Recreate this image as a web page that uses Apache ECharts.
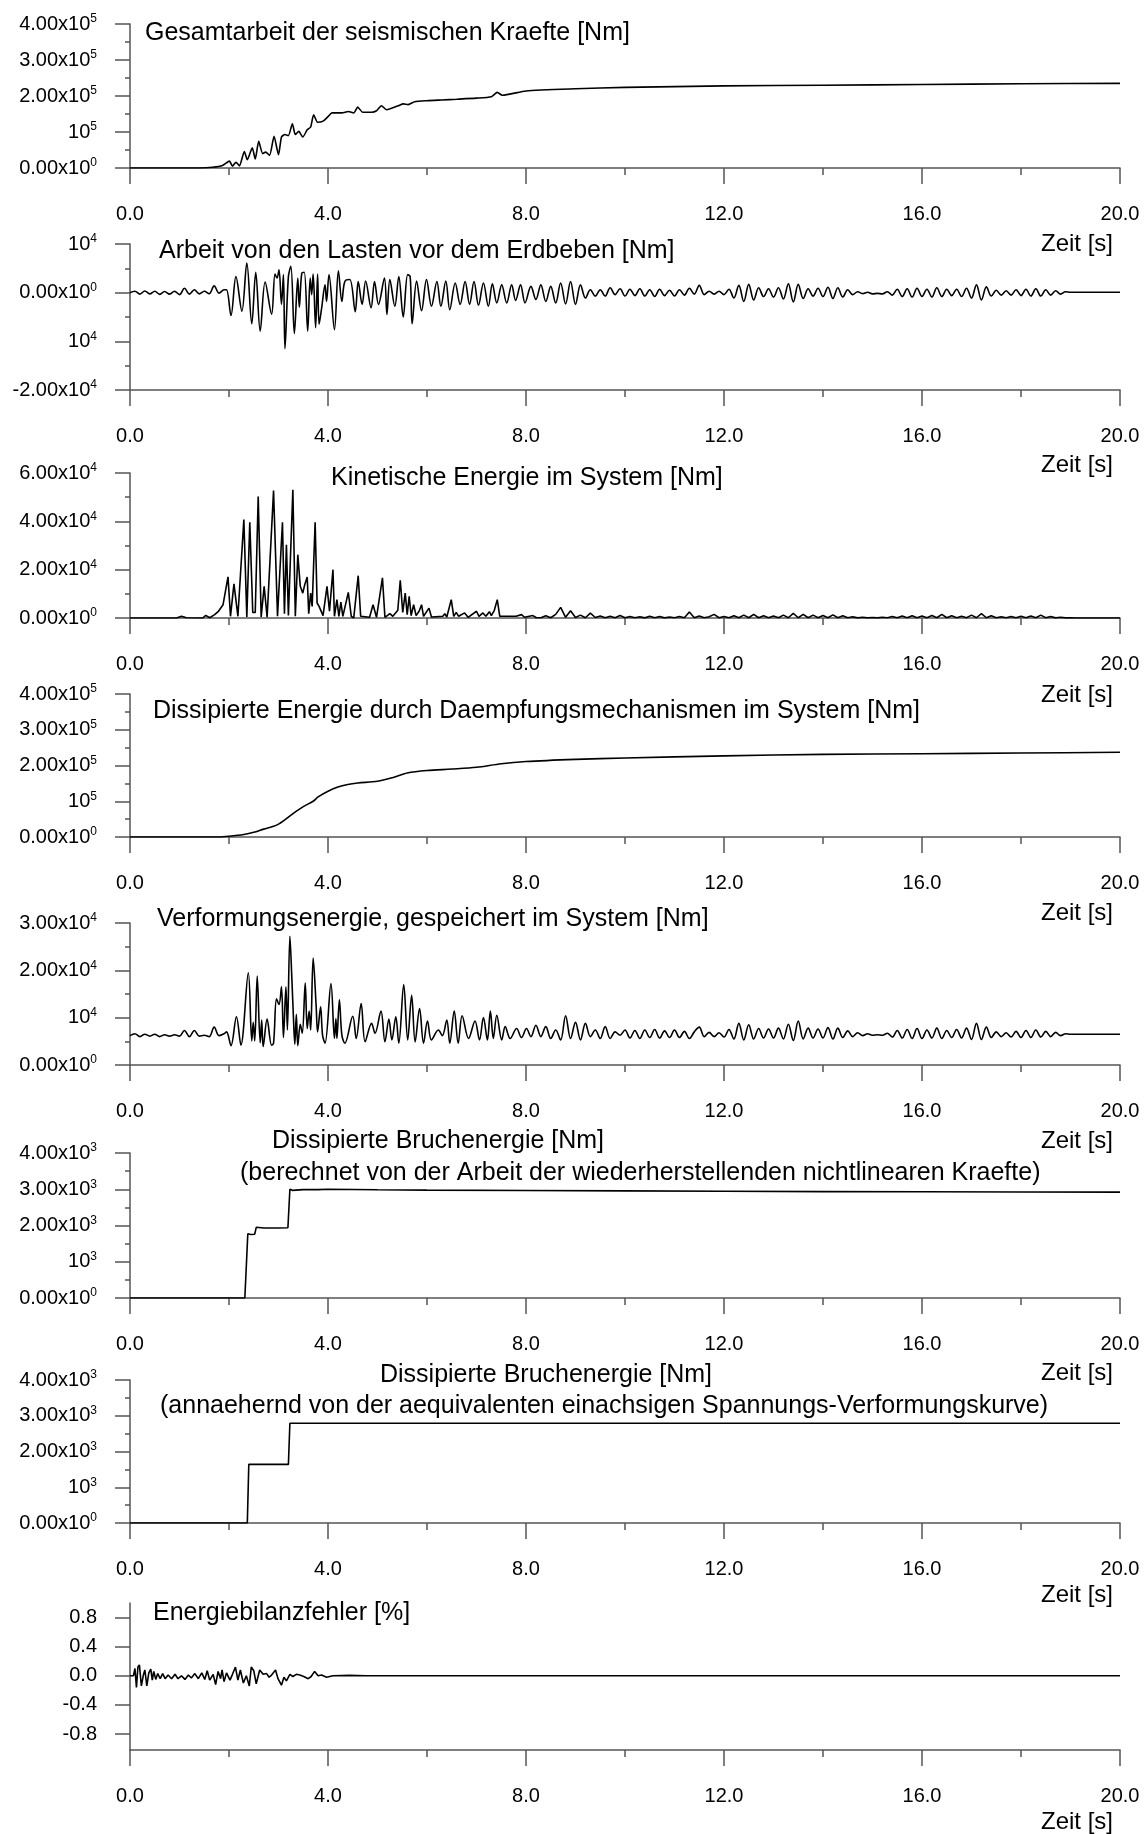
<!DOCTYPE html>
<html><head><meta charset="utf-8">
<script src="https://cdn.jsdelivr.net/npm/echarts@6/dist/echarts.min.js"></script>
<style>html,body{margin:0;padding:0;background:#fff}#c{width:1145px;height:1834px}</style>
</head><body><div id="c"></div>
<script>
// ---------------- DATA (time in s, values in Nm or %) ----------------
const timeStep = 0.1;
const xTicks = [0, 4, 8, 12, 16, 20];

// Panel 1: Gesamtarbeit der seismischen Kraefte
const p1Work = [[0,0],[1.40,0],[1.67,2000],[1.87,7000],[2.01,19000],[2.07,5000],[2.14,16000],[2.21,6000],[2.31,46000],[2.37,23000],[2.47,56000],[2.53,25000],[2.60,74000],[2.68,40000],[2.74,44000],[2.82,35000],[2.91,88000],[3.00,37000],[3.06,86000],[3.13,93000],[3.20,90000],[3.28,123000],[3.34,93000],[3.41,102000],[3.49,86000],[3.58,106000],[3.65,114000],[3.71,148000],[3.79,127000],[3.91,131000],[4.01,144000],[4.08,153000],[4.28,153000],[4.41,157000],[4.52,153000],[4.60,169000],[4.70,155000],[4.88,155000],[4.98,159000],[5.08,173000],[5.18,162000],[5.42,173000],[5.52,178000],[5.62,176000],[5.75,184000],[6.0,187000],[6.3,189000],[6.6,191000],[7.0,194000],[7.3,198000],[7.42,210000],[7.52,202000],[8.0,214000],[9.0,220000],[10.0,224000],[12.0,228000],[14.0,230000],[16.0,232000],[18.0,234000],[20.0,235000]];
const p1TickVals = [0, 1e5, 2e5, 3e5, 4e5];
const p1TickLabels = ['0.00x10^0', '10^5', '2.00x10^5', '3.00x10^5', '4.00x10^5'];

// Panel 2: Arbeit von den Lasten vor dem Erdbeben
const p2Early = [0,300,-300,350,-250,300,-350,250,-300,300,-400,900,-300,600,-250,300,-200,1400,-100,600];
const p2Mid = [[1.95,600],[2.04,-4700],[2.14,3300],[2.26,-3800],[2.36,6100],[2.46,-6400],[2.54,4200],[2.63,-7900],[2.73,2200],[2.86,-4400],[2.93,3800],[2.97,3000],[3.01,4700],[3.06,-2400],[3.10,3700],[3.13,-11500],[3.20,3300],[3.25,5400],[3.32,-8400],[3.39,3000],[3.42,-3000],[3.47,4000],[3.52,4200],[3.59,-7900],[3.64,3000],[3.67,-400],[3.70,3800],[3.75,-7200],[3.79,3800],[3.82,-6500],[3.87,-3300],[3.94,1600],[3.97,-1800],[4.02,3700],[4.13,-7600],[4.21,4500],[4.28,-1800],[4.34,2300],[4.44,2700],[4.55,-3900],[4.61,2300],[4.69,-2400],[4.76,2400],[4.87,-3100],[4.94,2300],[5.02,-2400],[5.14,3000],[5.19,-4500],[5.25,2700],[5.35,-2800],[5.43,3300],[5.52,-5000],[5.61,3700],[5.66,3300],[5.70,-6400],[5.79,2400],[5.89,-3700],[5.99,2700],[6.09,-2800],[6.20,2300],[6.28,-2800],[6.38,2400],[6.46,-3500],[6.57,2000],[6.67,-2400],[6.77,2300],[6.86,-2400],[6.95,2300],[7.04,-2600],[7.14,2000],[7.24,-2800],[7.32,1800],[7.41,-2100],[7.51,1600],[7.61,-2100],[7.71,1600],[7.79,-1600],[7.89,1600],[7.98,-2100]];
const p2LateStart = 8.1;
const p2Late = [1300,-1400,1600,-1800,1300,-2100,2000,-2300,2300,-2400,1600,-1100,600,-700,600,-700,1000,-400,800,
 -700,700,-600,800,-700,600,-800,700,-600,500,
 -700,600,-500,900,-300,1500,-400,300,-300,300,
 -400,700,-1100,1500,-1800,1700,-1500,1000,-800,800,
 -900,1000,-1300,1800,-1900,1700,-1200,800,-700,900,
 -800,1100,-1200,1000,-900,600,-400,200,-200,100,
 -250,-150,-250,200,-500,700,-800,800,-900,900,
 -800,700,-900,1000,-800,700,-600,700,-800,900,
 -1100,1600,-1500,1200,-700,500,-500,400,-500,600,
 -600,700,-700,800,-700,600,-500,400,-300,200,
 100,100,100,100,100,100,100,100,100,100,100];
const p2TickVals = [-2e4, -1e4, 0, 1e4];
const p2TickLabels = ['-2.00x10^4', '10^4', '0.00x10^0', '10^4'];

// Panel 3: Kinetische Energie im System
const p3Kinetic = [[0,0],[0.94,0],[1.04,700],[1.14,100],[1.47,0],[1.53,1100],[1.61,100],[1.71,1400],[1.78,2600],[1.88,5500],[1.98,17000],[2.03,700],[2.10,14100],[2.18,700],[2.30,40700],[2.36,400],[2.42,39600],[2.48,2300],[2.53,2300],[2.59,50300],[2.65,400],[2.71,13100],[2.77,300],[2.90,52700],[2.98,700],[3.08,39600],[3.12,1800],[3.16,30300],[3.20,1000],[3.29,53100],[3.34,700],[3.39,26200],[3.44,13100],[3.49,10300],[3.53,13800],[3.58,17000],[3.61,1800],[3.65,10300],[3.68,4800],[3.74,39600],[3.78,6200],[3.82,4800],[3.85,5500],[3.90,1000],[3.98,13100],[4.03,2800],[4.10,20000],[4.13,700],[4.18,7600],[4.22,700],[4.26,6600],[4.30,700],[4.41,10600],[4.47,700],[4.52,0],[4.61,17500],[4.66,700],[4.84,300],[4.91,5500],[4.98,300],[5.10,16600],[5.15,300],[5.25,1800],[5.31,700],[5.41,3200],[5.46,15600],[5.51,2300],[5.56,10300],[5.60,1400],[5.64,9000],[5.68,1000],[5.73,5500],[5.78,1000],[5.84,2800],[5.89,5500],[5.93,700],[6.04,4100],[6.09,400],[6.32,700],[6.36,1800],[6.40,400],[6.49,7600],[6.54,700],[6.59,2300],[6.64,700],[6.76,2100],[6.83,300],[7.00,2800],[7.05,700],[7.13,2100],[7.19,700],[7.26,2600],[7.30,1000],[7.36,3200],[7.42,7600],[7.47,700],[7.80,700],[7.91,1400],[7.97,300],[8.14,1000],[8.21,100]];
const p3LateStart = 8.3;
const p3Late = [100,900,100,1500,4400,300,3000,200,1200,100,2000,200,800,100,700,100,1000,
 100,600,100,500,50,700,100,600,50,400,
 100,600,100,2500,100,800,100,500,1500,100,
 600,100,900,100,1200,100,1500,100,900,100,
 800,100,1200,100,1900,100,1500,100,1200,100,
 1000,100,1300,100,900,100,500,50,300,50,
 200,50,300,100,600,100,800,100,900,100,
 800,100,1000,100,1500,100,900,100,700,100,
 1200,100,1800,100,900,100,500,100,600,100,
 700,100,800,100,1200,100,600,50,300,50,
 100,0,0,0,0,0,0,0,0,0,0];
const p3TickVals = [0, 2e4, 4e4, 6e4];
const p3TickLabels = ['0.00x10^0', '2.00x10^4', '4.00x10^4', '6.00x10^4'];

// Panel 4: Dissipierte Energie durch Daempfungsmechanismen
const p4Damping = [[0,0],[1.8,0],[2.0,2000],[2.3,7000],[2.5,13000],[2.7,22000],[2.9,30000],[3.0,36000],[3.1,45000],[3.3,66000],[3.5,85000],[3.7,100000],[3.8,112000],[4.0,128000],[4.2,140000],[4.4,147000],[4.6,151000],[5.0,156000],[5.3,166000],[5.6,179000],[6.0,186000],[6.5,190000],[7.0,195000],[7.5,205000],[8.0,211000],[9.0,217000],[10.0,221000],[12.0,227000],[14.0,231000],[16.0,233000],[18.0,235000],[20.0,237000]];
const p4TickVals = [0, 1e5, 2e5, 3e5, 4e5];
const p4TickLabels = ['0.00x10^0', '10^5', '2.00x10^5', '3.00x10^5', '4.00x10^5'];

// Panel 5: Verformungsenergie
const p5Early = [6200,6600,6000,6500,6100,6500,6000,6400,6100,6400,6100,7300,6000,7300,6100,6300,6000,8000,6200,6600];
const p5Mid = [[1.95,7000],[2.04,4100],[2.15,10200],[2.24,4200],[2.39,19500],[2.46,5100],[2.49,9000],[2.52,5100],[2.57,18800],[2.63,4700],[2.66,9500],[2.69,3900],[2.77,9700],[2.86,4200],[2.90,4600],[2.96,14000],[3.01,12800],[3.06,16500],[3.10,5800],[3.15,16500],[3.18,7400],[3.23,27200],[3.27,18200],[3.30,10500],[3.33,4400],[3.36,10700],[3.39,4100],[3.44,8600],[3.48,6700],[3.54,17300],[3.58,7700],[3.62,11400],[3.65,7400],[3.70,22600],[3.76,12600],[3.79,7000],[3.85,12300],[3.89,6300],[3.94,4600],[4.06,17200],[4.13,5600],[4.16,9800],[4.18,5600],[4.23,13800],[4.28,6300],[4.34,4600],[4.50,10300],[4.57,5600],[4.67,13000],[4.75,4900],[4.88,8800],[4.95,6700],[5.07,11400],[5.15,4900],[5.23,9700],[5.29,5300],[5.37,10200],[5.43,4600],[5.53,17000],[5.61,5300],[5.69,14700],[5.76,4900],[5.85,11900],[5.93,4600],[6.01,9300],[6.09,5300],[6.23,7400],[6.31,6200],[6.40,9500],[6.46,4600],[6.55,11400],[6.63,4600],[6.71,10400],[6.84,5600],[6.97,9300],[7.06,5300],[7.14,10000],[7.22,5300],[7.28,11400],[7.34,5600],[7.41,10500],[7.51,5300],[7.58,8100],[7.68,5600],[7.81,7700],[7.91,5800],[8.01,7700]];
const p5LateStart = 8.1;
const p5Late = [6000,8400,6000,8100,5600,7400,5300,10400,5600,9000,5300,8800,6000,7400,5600,8100,5600,7000,6300,
 7400,5700,7300,5600,7400,5800,7500,5700,7200,5800,
 7400,5800,7100,5600,7000,8000,6000,6900,6000,6800,
 5900,7500,5500,8800,5300,8500,5500,7700,5700,7600,
 5700,7800,5500,8600,5200,9300,5500,7800,5700,7600,
 5700,7900,5500,7800,5800,7200,6000,6800,6200,6600,
 6300,6400,6300,6700,5900,7300,5700,7500,5600,7700,
 5600,7400,5700,7800,5600,7300,5800,7500,5700,7800,
 5400,8800,5400,8000,5800,7000,6000,6800,5900,7100,
 5800,7300,5800,7400,5900,7100,6000,6900,6200,6600,
 6500,6500,6500,6500,6500,6500,6500,6500,6500,6500,6500];
const p5TickVals = [0, 1e4, 2e4, 3e4];
const p5TickLabels = ['0.00x10^0', '10^4', '2.00x10^4', '3.00x10^4'];

// Panel 6: Dissipierte Bruchenergie (Arbeit der nichtlinearen Kraefte)
const p6Fracture = [[0,0],[2.32,0],[2.38,1770],[2.44,1750],[2.52,1760],[2.55,1950],[2.7,1930],[3.0,1930],[3.19,1940],[3.23,3000],[3.28,2970],[3.5,2990],[3.8,2990],[4.0,3000],[5.0,2985],[6.0,2975],[8.0,2965],[10.0,2955],[12.0,2945],[14.0,2935],[16.0,2930],[18.0,2925],[20.0,2920]];
const p6TickVals = [0, 1e3, 2e3, 3e3, 4e3];
const p6TickLabels = ['0.00x10^0', '10^3', '2.00x10^3', '3.00x10^3', '4.00x10^3'];

// Panel 7: Dissipierte Bruchenergie (Spannungs-Verformungskurve)
const p7Fracture = [[0,0],[2.37,0],[2.40,1640],[3.20,1640],[3.23,2790],[20,2790]];
const p7TickVals = [0, 1e3, 2e3, 3e3, 4e3];
const p7TickLabels = ['0.00x10^0', '10^3', '2.00x10^3', '3.00x10^3', '4.00x10^3'];

// Panel 8: Energiebilanzfehler [%]
const p8Error = [[0,0],[0.07,0],[0.10,0.10],[0.13,-0.16],[0.16,0.12],[0.19,0.15],[0.23,-0.14],[0.27,0.01],[0.30,0.08],[0.34,-0.14],[0.38,0.04],[0.42,0.09],[0.45,-0.06],[0.48,0.06],[0.52,-0.05],[0.56,0.03],[0.61,-0.04],[0.66,0.03],[0.71,-0.04],[0.77,0.01],[0.84,-0.04],[0.91,0.02],[0.97,-0.04],[1.04,0.0],[1.11,-0.05],[1.18,0.01],[1.24,-0.03],[1.31,0.03],[1.38,-0.04],[1.45,0.04],[1.51,-0.05],[1.56,0.07],[1.61,-0.06],[1.68,0.02],[1.73,-0.12],[1.78,0.06],[1.83,-0.04],[1.86,0.08],[1.90,-0.08],[1.95,0.04],[2.02,-0.06],[2.07,0.02],[2.13,0.12],[2.18,-0.06],[2.23,0.08],[2.29,-0.10],[2.35,0.0],[2.41,-0.14],[2.45,0.12],[2.50,0.07],[2.55,-0.11],[2.62,0.08],[2.69,0.02],[2.76,0.03],[2.81,-0.02],[2.86,0.01],[2.94,0.08],[2.99,-0.04],[3.06,-0.13],[3.11,-0.02],[3.16,-0.07],[3.23,0.02],[3.29,-0.01],[3.36,0.02],[3.43,0.01],[3.51,-0.01],[3.60,-0.04],[3.66,-0.01],[3.73,0.06],[3.80,0.0],[3.87,0.01],[3.97,-0.02],[4.10,0.0],[4.44,0.005],[4.77,0.0],[20,0.0]];
const p8TickVals = [-0.8, -0.4, 0, 0.4, 0.8];
const p8TickLabels = ['-0.8', '-0.4', '0.0', '0.4', '0.8'];

// Texts
const panelTitles = [
  ['Gesamtarbeit der seismischen Kraefte [Nm]'],
  ['Arbeit von den Lasten vor dem Erdbeben [Nm]'],
  ['Kinetische Energie im System [Nm]'],
  ['Dissipierte Energie durch Daempfungsmechanismen im System [Nm]'],
  ['Verformungsenergie, gespeichert im System [Nm]'],
  ['Dissipierte Bruchenergie [Nm]', '(berechnet von der Arbeit der wiederherstellenden nichtlinearen Kraefte)'],
  ['Dissipierte Bruchenergie [Nm]', '(annaehernd von der aequivalenten einachsigen Spannungs-Verformungskurve)'],
  ['Energiebilanzfehler [%]']
];
const xAxisName = 'Zeit [s]';

// ---------------- BUILD ----------------
function uniform(start, vals) {
  return vals.map((v, i) => [+(start + i * timeStep).toFixed(2), v]);
}
const seriesData = [
  p1Work,
  uniform(0, p2Early).concat(p2Mid, uniform(p2LateStart, p2Late)),
  p3Kinetic.concat(uniform(p3LateStart, p3Late)),
  p4Damping,
  uniform(0, p5Early).concat(p5Mid, uniform(p5LateStart, p5Late)),
  p6Fracture,
  p7Fracture,
  p8Error
];
const smoothing = [0.2, 0.35, 0, 0.3, 0.35, 0, 0, 0];

// layout (pixels)
const FONT = "'Liberation Sans', Arial, sans-serif";
const TITLE_FS = 25, ZEIT_FS = 24, LABEL_FS = 20;
const layout = [
  {top: 24,   h: 144, min: 0,     max: 4e5,  step: 1e5, tv: p1TickVals, tl: p1TickLabels,
   titles: [{left: 145, top: 20}], zeit: 231},
  {top: 244,  h: 146, min: -2e4,  max: 1e4,  step: 1e4, tv: p2TickVals, tl: p2TickLabels,
   titles: [{left: 159, top: 238}], zeit: 452},
  {top: 473,  h: 145, min: 0,     max: 6e4,  step: 2e4, tv: p3TickVals, tl: p3TickLabels,
   titles: [{left: 331, top: 465}], zeit: 682},
  {top: 694,  h: 143, min: 0,     max: 4e5,  step: 1e5, tv: p4TickVals, tl: p4TickLabels,
   titles: [{left: 153, top: 698}], zeit: 900},
  {top: 923,  h: 142, min: 0,     max: 3e4,  step: 1e4, tv: p5TickVals, tl: p5TickLabels,
   titles: [{left: 157, top: 906}], zeit: 1128},
  {top: 1153, h: 145, min: 0,     max: 4e3,  step: 1e3, tv: p6TickVals, tl: p6TickLabels,
   titles: [{left: 272, top: 1128}, {left: 240, top: 1160}], zeit: 1360},
  {top: 1380, h: 143, min: 0,     max: 4e3,  step: 1e3, tv: p7TickVals, tl: p7TickLabels,
   titles: [{left: 380, top: 1362}, {left: 160, top: 1393}], zeit: 1582},
  {top: 1603, h: 147, min: -1.02, max: 1.0,  step: null, tv: p8TickVals, tl: p8TickLabels,
   titles: [{left: 153, top: 1600}], zeit: 1809}
];

const AX = '#555555';
const grids = [], xAxes = [], yAxes = [], series = [], titles = [];
layout.forEach((p, i) => {
  grids.push({left: 130, right: 25, top: p.top, height: p.h, containLabel: false});
  xAxes.push({
    type: 'value', gridIndex: i, min: 0, max: 20, interval: 4,
    axisLine: {show: true, onZero: false, lineStyle: {color: AX, width: 1.5}},
    axisTick: {show: true, inside: false, length: 16, lineStyle: {color: AX, width: 1.5}},
    minorTick: {show: true, splitNumber: 2, length: 7, lineStyle: {color: AX, width: 1.5}},
    splitLine: {show: false}, minorSplitLine: {show: false},
    axisLabel: {margin: 36, fontSize: LABEL_FS, color: '#000', fontFamily: FONT,
      formatter: v => (xTicks.includes(v) ? v.toFixed(1) : '')}
  });
  const span = p.max - p.min;
  const fmt = v => {
    const k = p.tv.findIndex(t => Math.abs(t - v) < span * 1e-6);
    if (k < 0) return '';
    const parts = p.tl[k].split('^');
    return parts.length > 1 ? `{m|${parts[0]}}{s|${parts[1]}}` : `{m|${parts[0]}}`;
  };
  const y = {
    type: 'value', gridIndex: i, min: p.min, max: p.max,
    axisLine: {show: true, onZero: false, lineStyle: {color: AX, width: 1.5}},
    axisTick: {show: true, inside: false, length: 15, lineStyle: {color: AX, width: 1.5}},
    splitLine: {show: false}, minorSplitLine: {show: false},
    axisLabel: {margin: 33, formatter: fmt, color: '#000',
      rich: {
        m: {fontSize: LABEL_FS, fontFamily: FONT, color: '#000', lineHeight: 22},
        s: {fontSize: 12, fontFamily: FONT, color: '#000', lineHeight: 12, verticalAlign: 'top'}
      }}
  };
  if (p.step) {
    y.interval = p.step;
    y.minorTick = {show: true, splitNumber: 2, length: 5, lineStyle: {color: AX, width: 1.5}};
  } else {
    y.axisTick.customValues = p.tv;
    y.axisLabel.customValues = p.tv;
    y.minorTick = {show: false};
  }
  yAxes.push(y);
  series.push({
    type: 'line', xAxisIndex: i, yAxisIndex: i, data: seriesData[i],
    showSymbol: false, symbol: 'none', animation: false, silent: true,
    smooth: smoothing[i] || false,
    lineStyle: {color: '#000', width: 1.6}
  });
  p.titles.forEach((t, j) => {
    titles.push({text: panelTitles[i][j], left: t.left, top: t.top + 1, padding: 0,
      textStyle: {fontSize: TITLE_FS, fontWeight: 'normal', color: '#000', fontFamily: FONT}});
  });
  titles.push({text: xAxisName, right: 32, top: p.zeit + 1, padding: 0,
    textStyle: {fontSize: ZEIT_FS, fontWeight: 'normal', color: '#000', fontFamily: FONT}});
});

const chart = echarts.init(document.getElementById('c'), null, {renderer: 'canvas'});
chart.setOption({
  backgroundColor: '#fff', animation: false,
  title: titles, grid: grids, xAxis: xAxes, yAxis: yAxes, series: series
});
</script></body></html>
